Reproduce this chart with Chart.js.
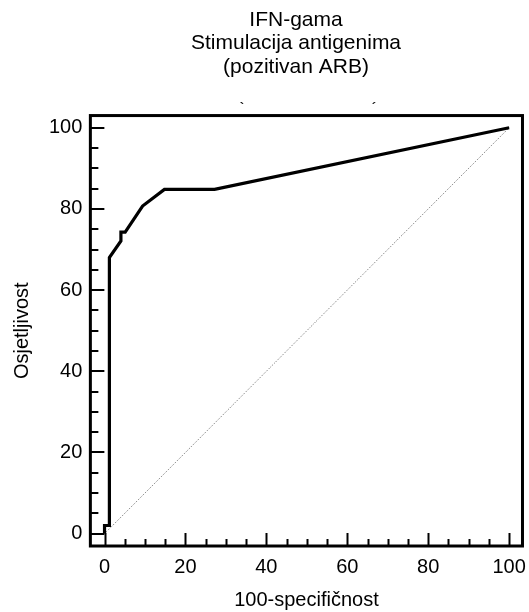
<!DOCTYPE html>
<html>
<head>
<meta charset="utf-8">
<script src="https://cdn.jsdelivr.net/npm/chart.js@4.4.1/dist/chart.umd.min.js"></script>
<style>
html,body{margin:0;padding:0;background:#fff;}
#wrap{width:529px;height:612px;position:relative;}
</style>
</head>
<body>
<div id="wrap"><canvas id="c" width="529" height="612"></canvas></div>
<script>
// ---- data ----
const titleLines = ["IFN-gama", "Stimulacija antigenima", "(pozitivan ARB)"];
const xAxisTitle = "100-specifičnost";
const yAxisTitle = "Osjetljivost";
const rocX = [0, 0, 1.2, 1.2, 4.05, 4.05, 5.1, 9.4, 14.8, 27.2, 100];
const rocY = [0, 2, 2, 68, 72.1, 74.3, 74.3, 80.7, 84.8, 84.8, 100];
const diagX = [0, 100];
const diagY = [0, 100];
const majorTicks = [0, 20, 40, 60, 80, 100];
const minorStep = 5;

const rocData = rocX.map((x, i) => ({x: x, y: rocY[i]}));
const diagData = diagX.map((x, i) => ({x: x, y: diagY[i]}));

Chart.defaults.font.family = "'Liberation Sans', Arial, sans-serif";
Chart.defaults.font.size = 20;
Chart.defaults.color = "#000";

function allTicks() {
  const t = [];
  for (let v = majorTicks[0]; v <= majorTicks[majorTicks.length - 1] + 1e-9; v += minorStep) t.push({value: v});
  return t;
}

const framePlugin = {
  id: 'frame',
  afterLayout(chart) {
    // shift title block so it is centred where the reference centres it
    if (chart.titleBlock) {
      chart.titleBlock.left = 63;
      chart.titleBlock.right = 529;
    }
  },
  afterDraw(chart) {
    const ctx = chart.ctx;
    const a = chart.chartArea;
    const xs = chart.scales.x, ys = chart.scales.y;
    ctx.save();
    ctx.strokeStyle = '#000';
    ctx.lineCap = 'butt';
    // inward ticks
    ctx.lineWidth = 2;
    xs.ticks.forEach(t => {
      const px = Math.round(xs.getPixelForValue(t.value)) + 0.5;
      const len = majorTicks.includes(t.value) ? 13 : 7;
      ctx.beginPath(); ctx.moveTo(px, a.bottom); ctx.lineTo(px, a.bottom - len); ctx.stroke();
    });
    ys.ticks.forEach(t => {
      const py = Math.round(ys.getPixelForValue(t.value));
      const len = majorTicks.includes(t.value) ? 14 : 8;
      ctx.beginPath(); ctx.moveTo(a.left, py); ctx.lineTo(a.left + len, py); ctx.stroke();
    });
    // frame
    ctx.lineWidth = 3;
    ctx.strokeRect(a.left, a.top, a.right - a.left, a.bottom - a.top);
    // tiny marks above frame
    ctx.fillStyle = '#111';
    ctx.font = "bold 13px 'Liberation Sans', Arial, sans-serif";
    ctx.textAlign = 'center';
    ctx.textBaseline = 'middle';
    ctx.fillText('`', 242, 108);
    ctx.fillText('´', 374, 108);
    ctx.restore();
  }
};

new Chart(document.getElementById('c'), {
  type: 'scatter',
  data: {
    datasets: [
      {data: diagData, showLine: true, borderColor: '#666', borderWidth: 1, borderDash: [1, 1.5], pointRadius: 0, order: 2},
      {data: rocData, showLine: true, borderColor: '#000', borderWidth: 3.2, pointRadius: 0, tension: 0, order: 1, borderJoinStyle: 'miter'}
    ]
  },
  plugins: [framePlugin],
  options: {
    responsive: false,
    animation: false,
    devicePixelRatio: 1,
    layout: {padding: {left: 10, right: 6, top: 0, bottom: 0}},
    plugins: {
      legend: {display: false},
      tooltip: {enabled: false},
      title: {
        display: true,
        text: titleLines,
        color: '#000',
        font: {size: 21, weight: 'normal', lineHeight: 1.12},
        padding: {top: 8, bottom: 37}
      }
    },
    scales: {
      x: {
        type: 'linear',
        min: -3.5, max: 103.3,
        afterBuildTicks: s => { s.ticks = allTicks(); },
        ticks: {
          autoSkip: false, maxRotation: 0,
          padding: 3,
          callback: v => majorTicks.includes(v) ? String(v) : ''
        },
        grid: {display: true, drawOnChartArea: false, drawTicks: true, tickLength: 6, color: 'rgba(0,0,0,0)'},
        border: {display: false},
        title: {display: true, text: xAxisTitle, font: {size: 20}, padding: {top: 6, bottom: 0}}
      },
      y: {
        type: 'linear',
        min: -3.05, max: 103,
        afterBuildTicks: s => { s.ticks = allTicks(); },
        ticks: {
          autoSkip: false,
          padding: 8,
          callback: v => majorTicks.includes(v) ? String(v) : ''
        },
        grid: {display: true, drawOnChartArea: false, drawTicks: false, color: 'rgba(0,0,0,0)'},
        border: {display: false},
        title: {display: true, text: yAxisTitle, font: {size: 20}, padding: {top: 0, bottom: 7}}
      }
    }
  }
});
</script>
</body>
</html>
